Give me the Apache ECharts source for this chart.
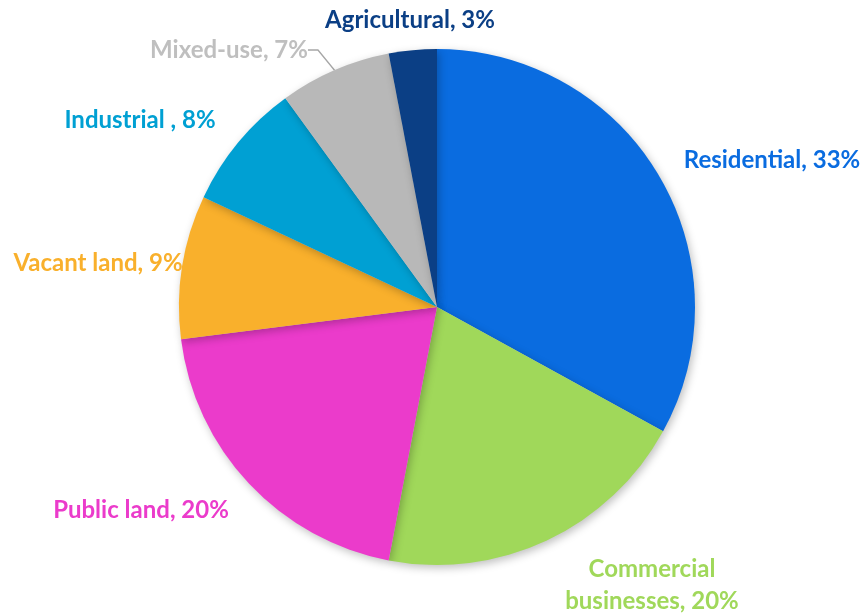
<!DOCTYPE html>
<html>
<head>
<meta charset="utf-8">
<script src="https://cdn.jsdelivr.net/npm/echarts@6/dist/echarts.min.js"></script>
<style>html,body{margin:0;padding:0;background:#fff}#c{width:864px;height:615px}</style>
</head>
<body>
<div id="c"></div>
<script>
var categories = ['Residential', 'Commercial\nbusinesses', 'Public land', 'Vacant land', 'Industrial ', 'Mixed-use', 'Agricultural'];
var values = [33, 20, 20, 9, 8, 7, 3];
var colors = ['#0a6ce0', '#a0d85a', '#eb3bcb', '#f9b02c', '#00a0d3', '#b8b8b8', '#0b3f85'];
var labelColors = ['#0a6ce0', '#a0d85a', '#eb3bcb', '#f9b02c', '#00a0d3', '#bfbfbf', '#0b3f85'];
// label centre positions (layout only)
var labelPos = [[772, 160], [652, 585], [141, 510], [98, 263], [140, 120], [229, 50], [410, 20]];

var chart = echarts.init(document.getElementById('c'));
var data = categories.map(function (c, i) {
  return {
    name: c,
    value: values[i],
    itemStyle: { color: colors[i] },
    label: { color: labelColors[i] },
    labelLine: { show: i === 5, lineStyle: { color: '#a6a6a6', width: 1.3 } }
  };
});
chart.setOption({
  animation: false,
  series: [{
    type: 'pie',
    center: [437, 307],
    radius: 258,
    startAngle: 90,
    clockwise: true,
    data: data,
    itemStyle: { shadowBlur: 8, shadowColor: 'rgba(0,0,0,0.25)', shadowOffsetX: 2, shadowOffsetY: 3 },
    label: {
      show: true,
      position: 'outside',
      fontFamily: 'Lato',
      fontWeight: 'bold',
      fontSize: 24,
      lineHeight: 32,
      align: 'center',
      overflow: 'none',
      formatter: function (p) { return p.name + ', ' + p.value + '%'; }
    },
    labelLine: { show: false, length: 8, length2: 10 },
    labelLayout: function (p) {
      var pos = labelPos[p.dataIndex];
      return { x: pos[0], y: pos[1], align: 'center', verticalAlign: 'middle' };
    }
  }]
});
</script>
</body>
</html>
